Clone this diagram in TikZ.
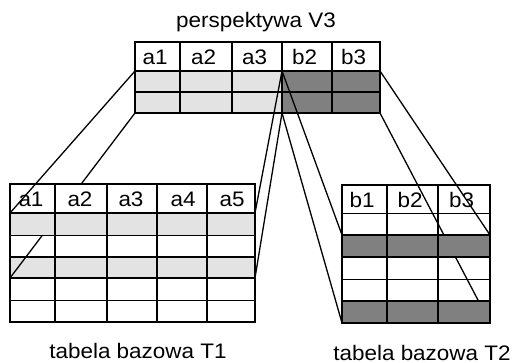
\documentclass[tikz,border=0pt]{standalone}
\usepackage{fontspec}
\setmainfont{Liberation Sans}[FakeStretch=1.07]
\definecolor{lightg}{HTML}{E3E3E3}
\definecolor{darkg}{HTML}{808080}
\begin{document}
\begin{tikzpicture}[x=1pt,y=-1pt,
  thin/.style={line width=1pt},
  mid/.style={line width=1.4pt},
  bold/.style={line width=1.7pt},
  heavy/.style={line width=2.2pt},
  conn/.style={line width=1.3pt},
  lab/.style={font=\fontsize{21}{24}\selectfont, inner sep=0pt, anchor=base}]
\useasboundingbox (0,0) rectangle (518,363);
% ---- named corner coordinates
\coordinate (v3r1L) at (135,71);
\coordinate (v3apex) at (282,71);
\coordinate (v3r1R) at (380,71);
\coordinate (v3bL) at (135,113);
\coordinate (v3bM) at (282,113);
\coordinate (v3bR) at (380,113);
\coordinate (t1r1L) at (10,213);
\coordinate (t1r1R) at (255,213);
\coordinate (t1r3L) at (10,278);
\coordinate (t1r3R) at (255,278);
\coordinate (t2d1L) at (342,235);
\coordinate (t2d1R) at (490,235);
\coordinate (t2d2L) at (342,323);
\coordinate (t2d2R) at (490,323);
% ---- fills that lie under all connectors
\fill[lightg] (135,71) rectangle (282,113);
\fill[darkg] (282,71) rectangle (380,113);
\fill[lightg] (10,257) rectangle (255,278);
% ---- connectors partly hidden by table fills
\draw[conn] (v3bL) -- (t1r3L);
\draw[conn] (v3bR) -- (t2d2R);
% ---- fills that hide parts of those connectors
\fill[white] (10,184) rectangle (255,213);
\fill[lightg] (10,213) rectangle (255,235);
\fill[darkg] (342,235) rectangle (490,257);
\fill[darkg] (342,301) rectangle (490,323);
% ---- remaining connectors
\draw[conn] (v3r1L) -- (t1r1L);
\draw[conn] (v3apex) -- (t1r1R);
\draw[conn] (v3bM) -- (t1r3R);
\draw[conn] (v3apex) -- (t2d1L);
\draw[conn] (v3bM) -- (t2d2L);
\draw[conn] (v3r1R) -- (t2d1R);
% ---- V3 grid
\draw[bold] (135,42) rectangle (380,113);
\foreach \y in {71,92} \draw[bold] (135,\y) -- (380,\y);
\foreach \x in {180,232,282,332} \draw[bold] (\x,42) -- (\x,113);
% ---- T1 grid
\foreach \y in {235,300} \draw[thin] (10,\y) -- (255,\y);
\draw[bold] (10,213) -- (255,213);
\foreach \x in {55,107,157,207} \draw[mid] (\x,184) -- (\x,322);
\draw[mid] (10,184) rectangle (255,322);
\draw[heavy] (10,257) rectangle (255,278);
% ---- T2 grid
\foreach \y in {213,279} \draw[thin] (342,\y) -- (490,\y);
\foreach \x in {387,438} \draw[mid] (\x,185) -- (\x,323);
\draw[mid] (342,185) rectangle (490,323);
\draw[heavy] (342,235) rectangle (490,257);
\draw[heavy] (342,301) rectangle (490,323);
% ---- texts
\node[lab] (title) at (256,28) {perspektywa V3};
\node[lab] (va1) at (155,64.5) {a1};
\node[lab] (va2) at (203.5,64.5) {a2};
\node[lab] (va3) at (254.5,64.5) {a3};
\node[lab] (vb2) at (304.5,64.5) {b2};
\node[lab] (vb3) at (353.5,64.5) {b3};
\node[lab] (ta1) at (31,206.5) {a1};
\node[lab] (ta2) at (80,206.5) {a2};
\node[lab] (ta3) at (131,206.5) {a3};
\node[lab] (ta4) at (183,206.5) {a4};
\node[lab] (ta5) at (232,206.5) {a5};
\node[lab] (tb1) at (362,207) {b1};
\node[lab] (tb2) at (410,207) {b2};
\node[lab] (tb3) at (461.5,207) {b3};
\node[lab] (cap1) at (138,358.5) {tabela bazowa T1};
\node[lab] (cap2) at (422,360) {tabela bazowa T2};
\end{tikzpicture}
\end{document}
